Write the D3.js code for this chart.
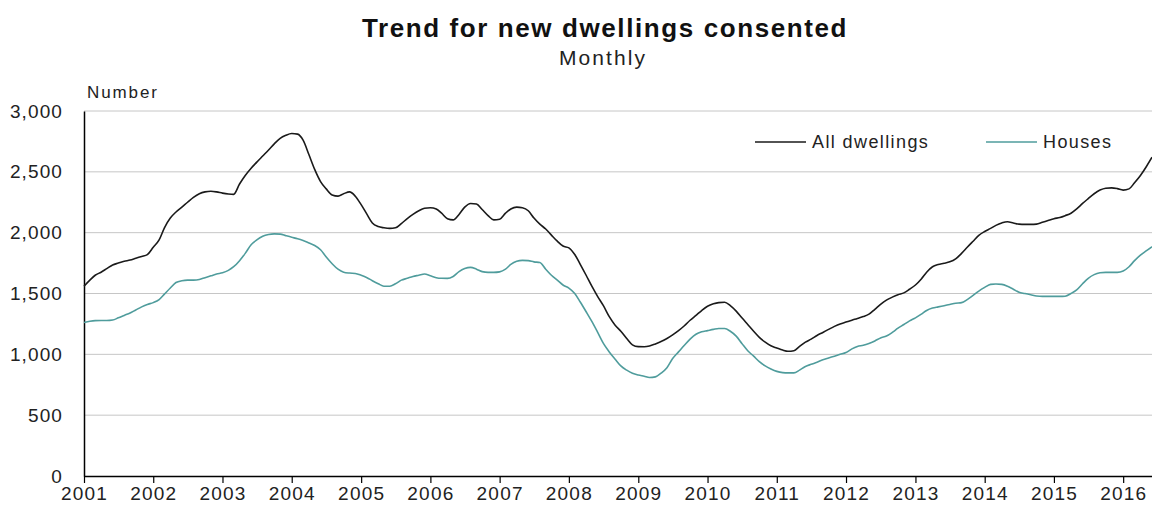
<!DOCTYPE html>
<html>
<head>
<meta charset="utf-8">
<script src="https://cdn.jsdelivr.net/npm/d3@7/dist/d3.min.js"></script>
<style>
  body { margin: 0; background: #fff; }
  svg { display: block; font-family: "Liberation Sans", Arial, sans-serif; }
</style>
</head>
<body>
<div id="chart"></div>
<script>
// monthly values, Jan 2001 .. Jun 2016
const allDwellings = [
  1560, 1610, 1650, 1675, 1705, 1735, 1750, 1765, 1775, 1790, 1805, 1820,
  1880, 1940, 2040, 2120, 2170, 2210, 2250, 2290, 2320, 2335, 2340, 2335,
  2325, 2318, 2315, 2400, 2470, 2530, 2580, 2630, 2680, 2730, 2775, 2800,
  2815, 2810, 2760, 2640, 2520, 2420, 2360, 2310, 2300, 2320, 2335, 2300,
  2230, 2150, 2080, 2050, 2040, 2035, 2040, 2075, 2115, 2150, 2180, 2200,
  2205, 2195, 2160, 2115, 2105, 2150, 2210, 2240, 2235, 2190, 2140, 2105,
  2110, 2160, 2195, 2210, 2205, 2180, 2120, 2070, 2030, 1980, 1930, 1890,
  1875, 1820, 1740, 1650, 1560, 1475, 1400, 1310, 1240, 1190, 1130, 1078,
  1063, 1062, 1068, 1085, 1105, 1130, 1160, 1195, 1235, 1280, 1320, 1360,
  1395, 1415, 1425, 1428, 1400, 1355, 1300, 1245, 1190, 1140, 1100, 1070,
  1052, 1035, 1025, 1030, 1065, 1100, 1125, 1155, 1180, 1205, 1230, 1250,
  1265, 1280, 1295, 1310, 1330, 1370, 1410, 1445, 1470, 1490, 1505, 1535,
  1570, 1620, 1675, 1720, 1738, 1748, 1760, 1785, 1830, 1880, 1930, 1978,
  2010, 2035, 2060, 2080, 2090, 2080, 2070, 2068, 2068, 2070, 2085, 2100,
  2115, 2125, 2140, 2160, 2195, 2240, 2280, 2320, 2350, 2365, 2368, 2362,
  2350, 2360, 2410, 2470, 2540, 2620
];
const houses = [
  1262, 1272, 1277, 1278, 1278, 1282, 1300, 1320, 1340, 1365, 1390, 1410,
  1425, 1450, 1495, 1545, 1590, 1605, 1610, 1610, 1615, 1630, 1645, 1660,
  1670, 1690, 1720, 1770, 1830, 1900, 1940, 1970, 1985, 1990, 1988, 1975,
  1962, 1950, 1935, 1915, 1895, 1860, 1800, 1745, 1700, 1675, 1668, 1665,
  1650, 1630, 1605, 1580, 1560, 1560, 1580, 1610, 1625, 1640, 1650, 1660,
  1645, 1630, 1625, 1624, 1640, 1680, 1705, 1715, 1700, 1680, 1674, 1674,
  1678, 1700, 1740, 1765, 1772, 1770, 1760, 1755, 1700, 1650, 1610, 1570,
  1545, 1500, 1430, 1350, 1270, 1180, 1090, 1020, 960, 905, 870, 845,
  830, 820, 810, 815, 845, 890, 965, 1020, 1075, 1125, 1165, 1185,
  1195, 1205, 1212, 1212, 1190, 1150, 1090, 1030, 985, 940, 905, 880,
  860, 850, 848, 848, 870, 900, 918, 935, 955, 970, 985, 1000,
  1015, 1045, 1065, 1075, 1090, 1110, 1135, 1150, 1180, 1215, 1245, 1275,
  1300, 1330, 1360, 1380, 1390, 1400, 1410, 1420, 1425, 1450, 1485, 1520,
  1550, 1575, 1578, 1575, 1560, 1535, 1510, 1500, 1490, 1480, 1476, 1476,
  1476, 1476, 1478, 1500, 1530, 1580, 1625, 1655, 1670, 1674, 1674, 1674,
  1685, 1720, 1770, 1815, 1850, 1885
];
const yTicks = [0, 500, 1000, 1500, 2000, 2500, 3000];
const seriesNames = ["All dwellings", "Houses"];
const seriesColors = ["#1a1a1a", "#4f9c9c"];

const width = 1152, height = 511;
const margin = { top: 111, right: 0, bottom: 35, left: 84 };

const svg = d3.select("#chart").append("svg")
  .attr("width", width)
  .attr("height", height);

const months = allDwellings.map((d, i) => new Date(2001, i, 1));

const x = d3.scaleTime()
  .domain([months[0], months[months.length - 1]])
  .range([margin.left, width - margin.right]);

const y = d3.scaleLinear()
  .domain([0, 3000])
  .range([height - margin.bottom, margin.top]);

// gridlines
svg.append("g")
  .selectAll("line")
  .data(yTicks.filter(d => d > 0))
  .join("line")
  .attr("x1", margin.left)
  .attr("x2", width - margin.right)
  .attr("y1", d => y(d))
  .attr("y2", d => y(d))
  .attr("stroke", "#c6c6c6")
  .attr("stroke-width", 1);

// y axis labels
const yAxis = svg.append("g")
  .attr("transform", `translate(${margin.left},0)`)
  .call(d3.axisLeft(y).tickValues(yTicks).tickSize(0).tickPadding(21).tickFormat(d3.format(",")));
yAxis.select(".domain").attr("stroke", "#000").attr("stroke-width", 1.5);
yAxis.selectAll("text")
  .attr("font-size", 19)
  .attr("letter-spacing", 1.1)
  .attr("fill", "#222")
  .style("font-family", "'Liberation Sans', Arial, sans-serif");

// x axis
const years = d3.range(2001, 2017).map(yr => new Date(yr, 0, 1));
const xAxis = svg.append("g")
  .attr("transform", `translate(0,${y(0)})`)
  .call(d3.axisBottom(x).tickValues(years).tickSize(7).tickSizeOuter(0).tickPadding(4).tickFormat(d3.timeFormat("%Y")));
xAxis.select(".domain").attr("stroke", "#000").attr("stroke-width", 1.5);
xAxis.selectAll(".tick line").attr("stroke", "#000").attr("stroke-width", 1.2);
xAxis.selectAll("text")
  .attr("font-size", 19)
  .attr("letter-spacing", 1.2)
  .attr("fill", "#222")
  .style("font-family", "'Liberation Sans', Arial, sans-serif");

// lines
const line = d3.line()
  .x((d, i) => x(months[i]))
  .y(d => y(d))
  .curve(d3.curveMonotoneX);

[allDwellings, houses].forEach((s, k) => {
  svg.append("path")
    .datum(s)
    .attr("fill", "none")
    .attr("stroke", seriesColors[k])
    .attr("stroke-width", 1.6)
    .attr("d", line);
});

// titles
svg.append("text")
  .attr("x", 605).attr("y", 37)
  .attr("text-anchor", "middle")
  .attr("font-size", 26)
  .attr("font-weight", "bold")
  .attr("letter-spacing", 1.6)
  .attr("fill", "#111")
  .text("Trend for new dwellings consented");

svg.append("text")
  .attr("x", 603).attr("y", 65)
  .attr("text-anchor", "middle")
  .attr("font-size", 21)
  .attr("letter-spacing", 2.1)
  .attr("fill", "#222")
  .text("Monthly");

svg.append("text")
  .attr("x", 87).attr("y", 98)
  .attr("font-size", 17)
  .attr("letter-spacing", 1.9)
  .attr("fill", "#222")
  .text("Number");

// legend
const legendX = [755, 986];
seriesNames.forEach((name, k) => {
  const g = svg.append("g").attr("transform", `translate(${legendX[k]},142)`);
  g.append("line")
    .attr("x1", 0).attr("x2", 51)
    .attr("stroke", seriesColors[k])
    .attr("stroke-width", 1.6);
  g.append("text")
    .attr("x", 57).attr("y", 6)
    .attr("font-size", 18)
    .attr("letter-spacing", 1.4)
    .attr("fill", "#222")
    .text(name);
});
</script>
</body>
</html>
